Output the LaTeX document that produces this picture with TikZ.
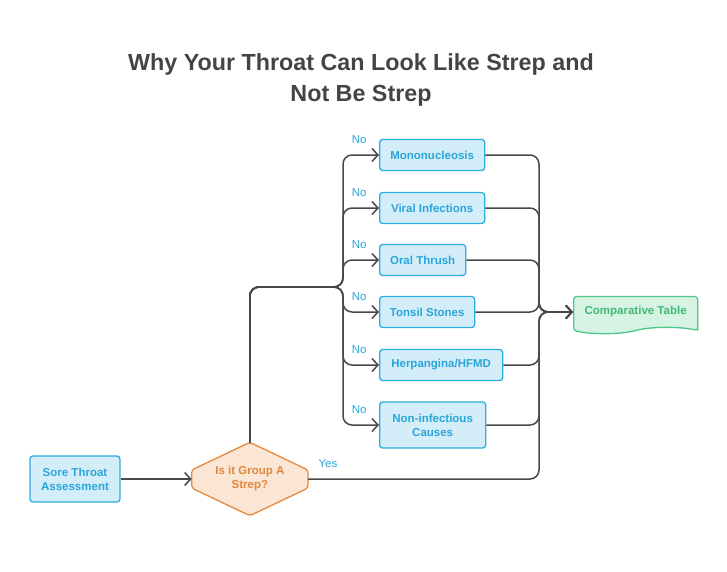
\documentclass[tikz,border=0pt]{standalone}
\usepackage{fontspec}
\setmainfont{Liberation Sans}
\usetikzlibrary{positioning, arrows.meta, shapes.symbols, backgrounds}
\definecolor{linegray}{HTML}{484848}
\definecolor{titlegray}{HTML}{444444}
\definecolor{cyanline}{HTML}{2AAEE0}
\definecolor{cyanfill}{HTML}{D4EEF9}
\definecolor{cyantext}{HTML}{2AA5DA}
\definecolor{orangeline}{HTML}{E58A3C}
\definecolor{orangefill}{HTML}{FBE5D4}
\definecolor{orangetext}{HTML}{E0893A}
\definecolor{greenline}{HTML}{4CC98A}
\definecolor{greenfill}{HTML}{D6F3E4}
\definecolor{greentext}{HTML}{3DBB74}

\begin{document}
\begin{tikzpicture}[x=1pt, y=-1pt,
    box/.style={rectangle, rounded corners=3pt, draw=cyanline, fill=cyanfill, text=cyantext, line width=1.3pt, minimum height=31pt, inner sep=2pt, font=\fontsize{11.5}{14}\selectfont\bfseries, align=center},
    decision/.style={rectangle, minimum width=116pt, minimum height=73pt, inner sep=0pt, text=orangetext, font=\fontsize{11.5}{14}\selectfont\bfseries, align=center},
    tablebox/.style={tape, tape bend top=none, tape bend height=6pt, rounded corners=3pt, draw=greenline, fill=greenfill, text=greentext, line width=1.3pt, minimum width=124pt, minimum height=37pt, font=\fontsize{11.5}{14}\selectfont\bfseries},
    conn/.style={draw=linegray, line width=1.5pt, rounded corners=9pt, -{Straight Barb[length=6pt, width=13pt, line width=1.5pt]}},
    lbl/.style={text=cyantext, font=\fontsize{11.5}{13}\selectfont},
]
\useasboundingbox (0,0) rectangle (727,571);

% Title
\node[text=titlegray, align=center, font=\fontsize{23.3}{31}\selectfont\bfseries] (title) at (361,80) {Why Your Throat Can Look Like Strep and\\Not Be Strep};

% Start and decision
\node[box, minimum width=90pt, minimum height=46pt] (sore) at (75,479) {Sore Throat\\Assessment};
\node[decision, right=71pt of sore] (dia) {Is it Group A\\Strep?};
\begin{scope}[on background layer]
\draw[draw=orangeline, fill=orangefill, line width=1.3pt, rounded corners=3pt] (dia.north) -- ([yshift=9pt]dia.east) -- ([yshift=-9pt]dia.east) -- (dia.south) -- ([yshift=-9pt]dia.west) -- ([yshift=9pt]dia.west) -- cycle;
\end{scope}

% Possible causes
\node[box, anchor=west, minimum width=105pt] (mono) at (379,155) {Mononucleosis};
\node[box, anchor=west, minimum width=105pt] (viral) at (379,208) {Viral Infections};
\node[box, anchor=west, minimum width=86pt] (thrush) at (379,260) {Oral Thrush};
\node[box, anchor=west, minimum width=95pt] (tonsil) at (379,312) {Tonsil Stones};
\node[box, anchor=west, minimum width=123pt] (herp) at (379,365) {Herpangina/HFMD};
\node[box, anchor=west, minimum width=106pt, minimum height=46pt] (noninf) at (379,425) {Non-infectious\\Causes};

% Result
\node[tablebox, anchor=west] (table) at (573,312) {Comparative Table};

% Branch points
\coordinate (split) at (343,287);
\coordinate (merge) at (539,312);

% Arrows
\draw[conn] (sore) -- (dia);
\foreach \n in {mono,viral,thrush,tonsil,herp,noninf}{
  \draw[conn] (dia.north) |- (split) |- (\n.west);
  \draw[conn] (\n.east) -| (merge) -- (table.west);
  \node[lbl, anchor=south east] (no-\n) at ([xshift=-9pt, yshift=8pt]\n.west) {No};
}
\draw[conn] (dia.east) -| (merge) -- (table.west);
\node[lbl, anchor=south west] (yes) at ([xshift=7pt, yshift=8pt]dia.east) {Yes};
\end{tikzpicture}
\end{document}
